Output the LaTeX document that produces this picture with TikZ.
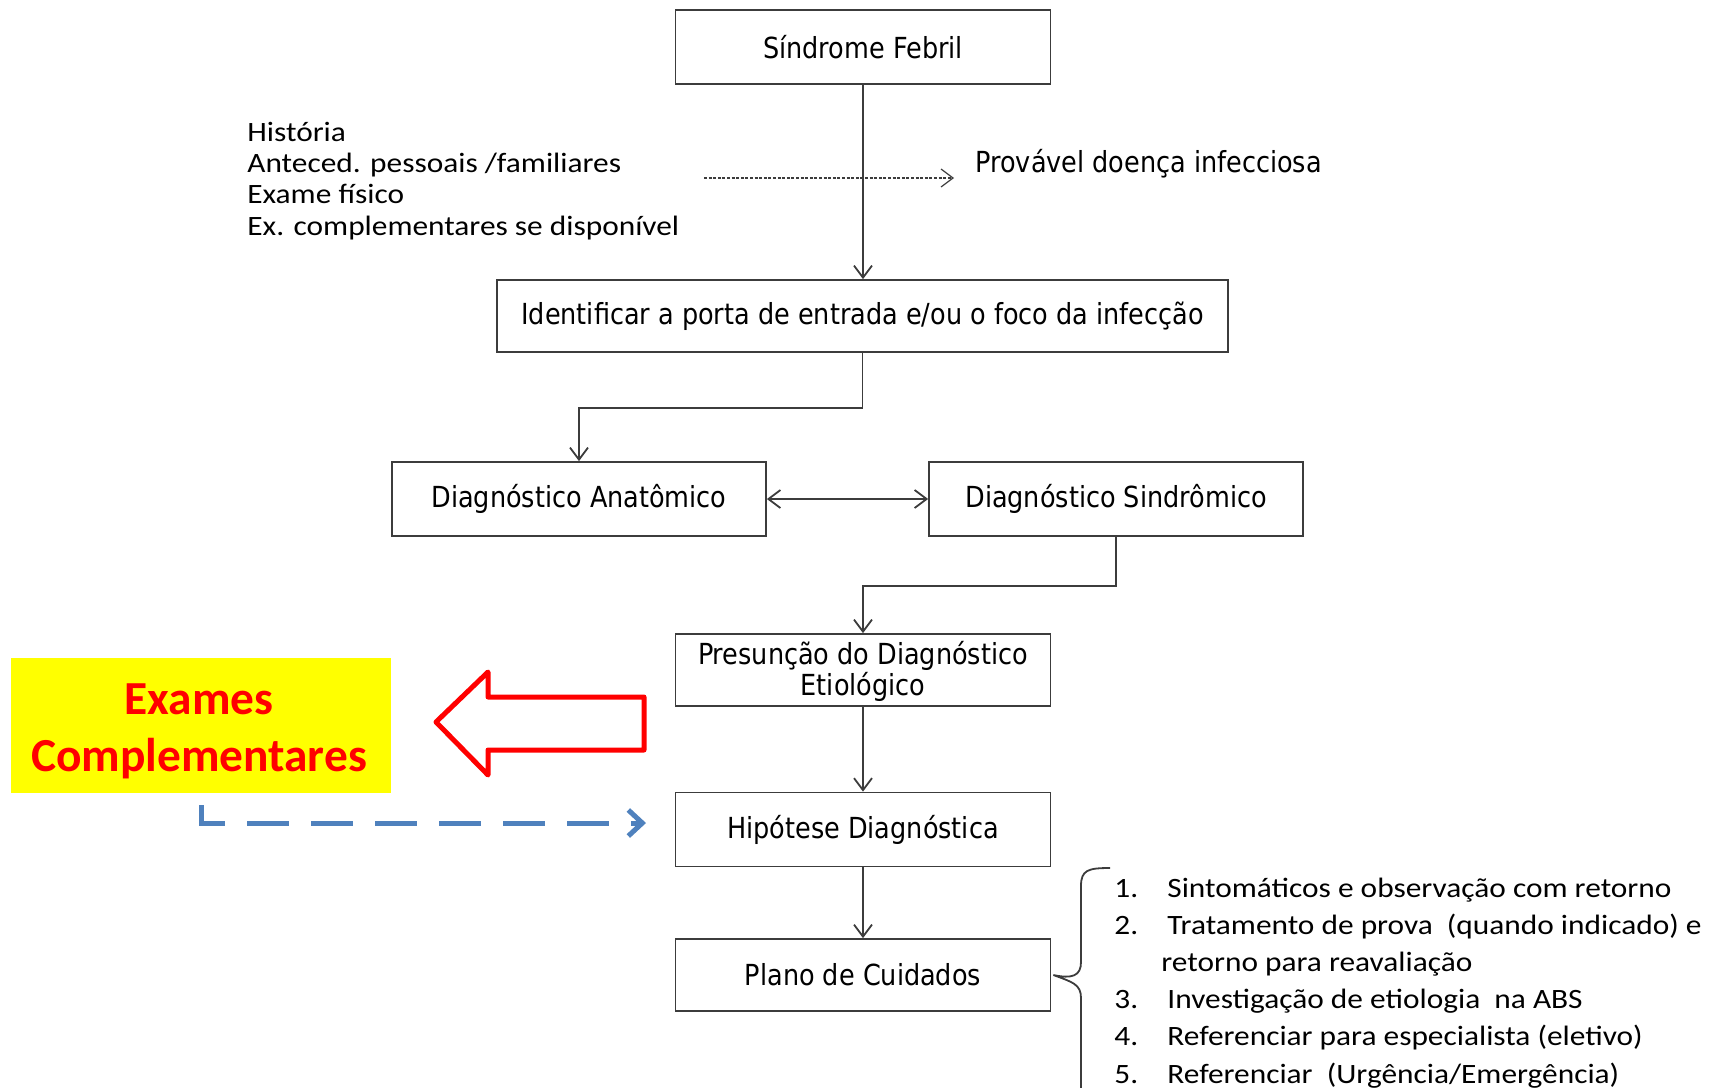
\documentclass[tikz,border=0pt]{standalone}
\usepackage{fontspec}
\setmainfont{Carlito}[FakeStretch=1.12]
\newfontfamily\boxfont[FakeStretch=0.88]{DejaVu Sans}
\newfontfamily\exfont{Carlito}
\usetikzlibrary{arrows.meta}

\definecolor{linegray}{RGB}{60,60,60}
\definecolor{exblue}{RGB}{79,129,189}
\definecolor{exred}{RGB}{255,0,0}
\definecolor{exyellow}{RGB}{255,255,0}

\tikzset{
  caixa/.style={draw=linegray, line width=0.9pt, inner sep=0pt, minimum height=37pt,
    align=center, font=\boxfont\fontsize{14.5}{15.5}\selectfont},
  seta/.style={draw=linegray, line width=0.9pt, -{Straight Barb[length=6pt,width=9pt]}},
  texto/.style={anchor=base west, inner sep=0pt, font=\fontsize{14}{16}\selectfont},
}

\begin{document}
\begin{tikzpicture}[x=0.5pt, y=-0.5pt]

    \useasboundingbox (0,0) rectangle (1716,1087);

    % Caixas
    \node[caixa, minimum width=187.5pt] (febril) at (863,47) {Síndrome Febril};
    \node[caixa, minimum width=365.5pt, minimum height=36pt] (ident) at (862.5,316)
        {Identificar a porta de entrada e/ou o foco da infecção};
    \node[caixa, minimum width=187pt] (anat) at (579,499) {Diagnóstico Anatômico};
    \node[caixa, minimum width=187pt] (sind) at (1116,499) {Diagnóstico Sindrômico};
    \node[caixa, minimum width=187.5pt, minimum height=36pt] (presun) at (863,670)
        {\rule{0pt}{13pt}Presunção do Diagnóstico\\Etiológico};
    \node[caixa, minimum width=187.5pt] (hipot) at (863,829.5) {Hipótese Diagnóstica};
    \node[caixa, minimum width=187.5pt, minimum height=36pt] (plano) at (863,975) {Plano de Cuidados};

    % Textos laterais
    \node[texto] (hist1) at (247,141) {História};
    \node[texto] (hist2) at (247,172) {Anteced. pessoais /familiares};
    \node[texto] (hist3) at (247,203) {Exame físico};
    \node[texto] (hist4) at (247,235) {Ex. complementares se disponível};

    \node[anchor=base west, inner sep=0pt, font=\boxfont\fontsize{14.5}{15.5}\selectfont]
        (provavel) at (975,172) {Provável doença infecciosa};

    % Conexiones
    \draw[seta] (febril.south) -- (febril.south |- ident.north);

    \coordinate (pont1) at (704,178);
    \coordinate (pont2) at (954,178);
    \draw[draw=linegray, line width=0.6pt, dash pattern=on 1.5pt off 0.8pt,
          -{Straight Barb[length=6pt,width=9pt]}] (pont1) -- (pont2);

    \draw[seta] (ident.south) -- ++(0,55) -| (anat.north);
    \draw[seta, {Straight Barb[length=6pt,width=9pt]}-{Straight Barb[length=6pt,width=9pt]}]
        (anat.east) -- (sind.west);
    \draw[seta] (sind.south) -- ++(0,49) -| (presun.north);
    \draw[seta] (presun.south) -- (hipot.north);
    \draw[seta] (hipot.south) -- (plano.north);

    % Chave
    \draw[linegray, line width=0.9pt]
        (1110,868) .. controls (1088,868) and (1081,870) .. (1081,886)
        -- (1081,962) .. controls (1081,976) and (1072,979) .. ([xshift=1pt]plano.east)
        .. controls (1072,982) and (1081,984) .. (1081,998)
        -- (1081,1092);

    % Lista
    \node[texto] (n1) at (1114,897) {1.};
    \node[texto] (l1) at (1167,897) {Sintomáticos e observação com retorno};
    \node[texto] (n2) at (1114,934) {2.};
    \node[texto] (l2) at (1167,934) {Tratamento de prova \ (quando indicado) e};
    \node[texto] (l2b) at (1161,971) {retorno para reavaliação};
    \node[texto] (n3) at (1114,1008) {3.};
    \node[texto] (l3) at (1167,1008) {Investigação de etiologia \ na ABS};
    \node[texto] (n4) at (1114,1045) {4.};
    \node[texto] (l4) at (1167,1045) {Referenciar para especialista (eletivo)};
    \node[texto] (n5) at (1114,1083) {5.};
    \node[texto] (l5) at (1167,1083) {Referenciar \ (Urgência/Emergência)};

    % Exames complementares
    \node[fill=exyellow, minimum width=190pt, minimum height=67.5pt, inner sep=0pt]
        (exames) at (201,725.5) {};
    \node[align=center, inner sep=0pt, text=exred,
          font=\exfont\bfseries\fontsize{23.7}{28.5}\selectfont]
        (examestxt) at (199,731) {Exames\\Complementares};

    \draw[exred, line width=2.5pt, line join=round, fill=white]
        (436,722) -- (488,672) -- (488,697) -- (644,697) -- (644,750)
        -- (488,750) -- (488,775) -- cycle;

    \coordinate (azulfim) at (646,823);
    \draw[exblue, line width=2.5pt, dash pattern=on 21pt off 11pt, dash phase=-6pt,
          -{Straight Barb[length=7pt,width=13pt]}] (exames.south) |- (azulfim);

\end{tikzpicture}
\end{document}
